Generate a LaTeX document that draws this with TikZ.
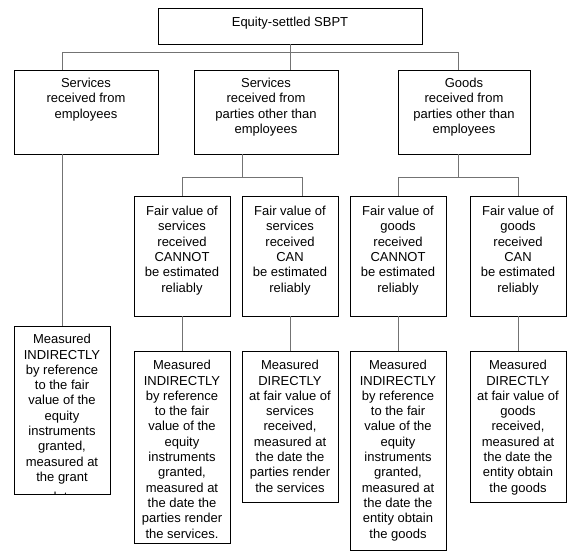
\documentclass[tikz,border=0pt]{standalone}
\usepackage{fontspec}
\setmainfont{Liberation Sans}
\newcommand\bxt[4]{\parbox[c][#2][t]{#1}{\centering\fontsize{13bp}{15.3bp}\selectfont\rule{0pt}{#3}#4\par}}
\tikzset{
  box/.style={draw=black, line width=0.9bp, inner sep=0pt, outer sep=0pt, rectangle},
  conn/.style={draw=black!55, line width=0.9bp}
}
\begin{document}
\begin{tikzpicture}[x=1bp,y=-1bp]
\useasboundingbox (0,0) rectangle (581,560);
\fill[white] (0,0) rectangle (581,560);
% level 0
\node[box] (top) at (290,26) {\bxt{264bp}{36bp}{19bp}{Equity-settled SBPT}};
% level 1
\node[box] (s1) at (86,112) {\bxt{144bp}{84bp}{17.7bp}{Services\\received from\\employees}};
\node[box] (s2) at (266,112) {\bxt{144bp}{84bp}{17.7bp}{Services\\received from\\parties other than\\employees}};
\node[box] (s3) at (464,112) {\bxt{132bp}{84bp}{17.7bp}{Goods\\received from\\parties other than\\employees}};
% level 2
\node[box] (f1) at (182,256) {\bxt{96bp}{120bp}{19.7bp}{Fair value of\\services\\received\\CANNOT\\be estimated\\reliably}};
\node[box] (f2) at (290,256) {\bxt{96bp}{120bp}{19.7bp}{Fair value of\\services\\received\\CAN\\be estimated\\reliably}};
\node[box] (f3) at (398,256) {\bxt{96bp}{120bp}{19.7bp}{Fair value of\\goods\\received\\CANNOT\\be estimated\\reliably}};
\node[box] (f4) at (518,256) {\bxt{96bp}{120bp}{19.7bp}{Fair value of\\goods\\received\\CAN\\be estimated\\reliably}};
% level 3
\begin{scope}
\clip (13.5,325.5) rectangle (110.5,494.5);
\node[box] (m0) at (62,410) {\bxt{96bp}{168bp}{17.7bp}{Measured\\INDIRECTLY\\by reference\\to the fair\\value of the\\equity\\instruments\\granted,\\measured at\\the grant\\[4.5bp]date}};
\end{scope}
\draw[box] (m0.north west) rectangle (m0.south east);
\node[box] (m1) at (182,447) {\bxt{96bp}{192bp}{18.7bp}{Measured\\INDIRECTLY\\by reference\\to the fair\\value of the\\equity\\instruments\\granted,\\measured at\\the date the\\parties render\\the services.}};
\node[box] (m2) at (290,426.5) {\bxt{96bp}{151bp}{18.7bp}{Measured\\DIRECTLY\\at fair value of\\services\\received,\\measured at\\the date the\\parties render\\the services}};
\node[box] (m3) at (398,450.5) {\bxt{96bp}{199bp}{18.7bp}{Measured\\INDIRECTLY\\by reference\\to the fair\\value of the\\equity\\instruments\\granted,\\measured at\\the date the\\entity obtain\\the goods}};
\node[box] (m4) at (518,426.5) {\bxt{96bp}{151bp}{18.7bp}{Measured\\DIRECTLY\\at fair value of\\goods\\received,\\measured at\\the date the\\entity obtain\\the goods}};
% connectors
\coordinate (ja) at (62,52);
\coordinate (jb) at (458,52);
\draw[conn] (top.south) -- (top.south |- s2.north);
\draw[conn] (ja |- s1.north) -- (ja) -- (jb) -- (jb |- s3.north);
\draw[conn] (ja |- s1.south) -- (ja |- m0.north);
\coordinate (k2) at (242,177);
\coordinate (k2a) at (182,177);
\coordinate (k2b) at (302,177);
\draw[conn] (k2 |- s2.south) -- (k2);
\draw[conn] (k2a |- f1.north) -- (k2a) -- (k2b) -- (k2b |- f2.north);
\coordinate (k3) at (458,177);
\coordinate (k3a) at (398,177);
\coordinate (k3b) at (518,177);
\draw[conn] (k3 |- s3.south) -- (k3);
\draw[conn] (k3a |- f3.north) -- (k3a) -- (k3b) -- (k3b |- f4.north);
\draw[conn] (f1.south) -- (m1.north);
\draw[conn] (f2.south) -- (m2.north);
\draw[conn] (f3.south) -- (m3.north);
\draw[conn] (f4.south) -- (m4.north);
\end{tikzpicture}
\end{document}
